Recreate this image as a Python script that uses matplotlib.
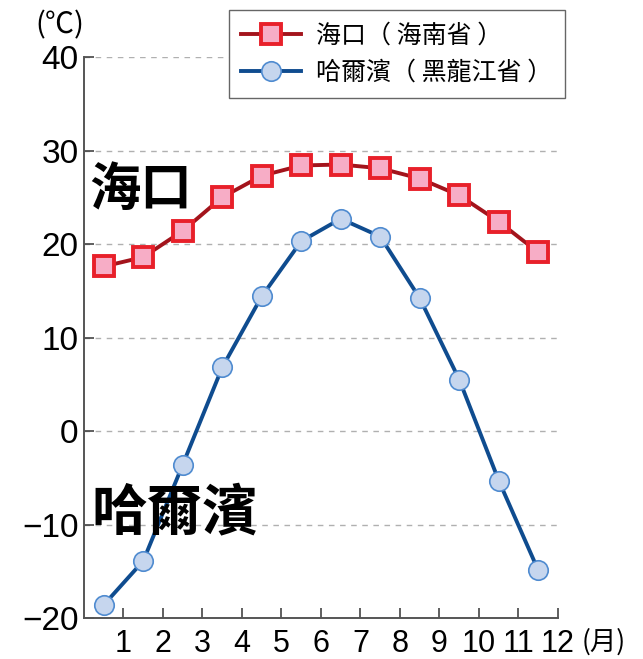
import matplotlib
matplotlib.use("Agg")
import matplotlib.pyplot as plt

# Monthly mean temperatures (°C)
months = [1, 2, 3, 4, 5, 6, 7, 8, 9, 10, 11, 12]
haikou = [17.6, 18.6, 21.4, 25.0, 27.3, 28.4, 28.5, 28.1, 27.0, 25.2, 22.4, 19.1]
harbin = [-18.6, -13.9, -3.6, 6.8, 14.4, 20.3, 22.7, 20.8, 14.2, 5.5, -5.3, -14.9]
y_ticks = [-20, -10, 0, 10, 20, 30, 40]
y_labels = ["\u221220", "\u221210", "0", "10", "20", "30", "40"]
haikou_label = "海口（ 海南省 ）"
harbin_label = "哈爾濱（ 黑龍江省 ）"

cjk = ["Noto Sans CJK TC", "DejaVu Sans"]
num_font = ["Liberation Sans", "DejaVu Sans"]

fig = plt.figure(figsize=(6.43, 6.59), dpi=100)
ax = fig.add_axes([0.1306, 0.0622, 0.7372, 0.8513])

# points sit in the middle of each month
x = [m - 0.5 for m in months]

ax.plot(x, haikou, color="#a3141c", lw=2.8, marker="s", ms=15,
        mfc="#f7adc6", mec="#e8202a", mew=2.8, label=haikou_label, zorder=4)
ax.plot(x, harbin, color="#0f4c8f", lw=2.8, marker="o", ms=14,
        mfc="#c6d6ee", mec="#4f8bd0", mew=1.2, label=harbin_label, zorder=4)

ax.set_xlim(0, 12)
ax.set_ylim(-20, 40)
ax.set_xticks(months)
ax.set_xticklabels([str(m) for m in months], fontsize=22, family=num_font)
ax.set_yticks(y_ticks)
ax.set_yticklabels(y_labels, fontsize=24, family=num_font)
ax.tick_params(axis="both", direction="in", length=7, width=1.2, color="#444444", pad=4)
ax.tick_params(axis="x", pad=8)

for v in y_ticks[1:]:
    ax.axhline(v, color="#b0b0b0", lw=1.0, ls=(0, (4, 4)), zorder=1)

for s in ["top", "right"]:
    ax.spines[s].set_visible(False)
for s in ["left", "bottom"]:
    ax.spines[s].set_color("#555555")
    ax.spines[s].set_linewidth(1.4)

ax.text(1.05, -0.042, "(月)", transform=ax.transAxes, fontsize=19,
        family=cjk, ha="left", va="center")
fig.text(0.055, 0.985, "(℃)", fontsize=21, family=cjk, ha="left", va="top")

ax.text(0.12, 25.8, "海口", fontsize=37, family=cjk, fontweight="bold",
        ha="left", va="center", zorder=5)
ax.text(0.2, -8.8, "哈爾濱", fontsize=40, family=cjk, fontweight="bold",
        ha="left", va="center", zorder=5)

leg = fig.legend(loc="upper right", bbox_to_anchor=(0.879, 0.985),
                 prop={"family": cjk, "size": 18}, fancybox=False,
                 edgecolor="#666666", framealpha=1, handlelength=2.4,
                 borderpad=0.5, labelspacing=0.45, handletextpad=0.6,
                 borderaxespad=0)
leg.get_frame().set_linewidth(1.0)

fig.savefig("out.png", dpi=100)
